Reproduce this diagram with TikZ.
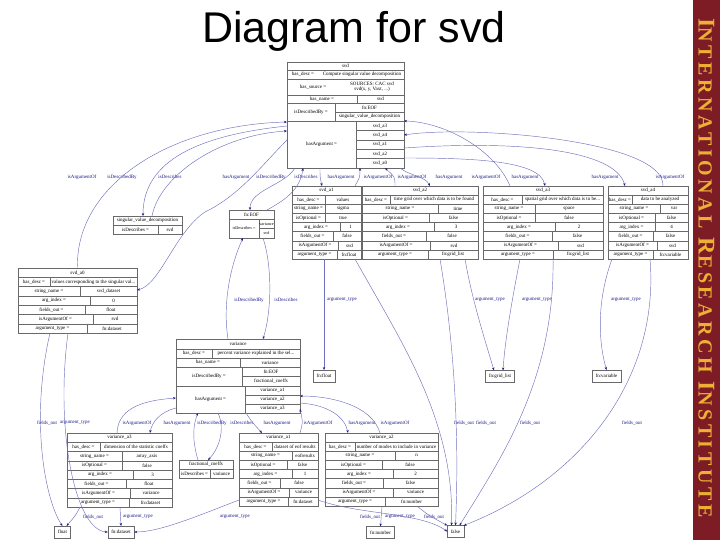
\documentclass[tikz,border=0pt]{standalone}
\usepackage{fontspec}
\setmainfont{Liberation Serif}
\newfontfamily\titlefont{Liberation Sans}
\newfontfamily\irifont[LetterSpace=18]{Liberation Serif}
\usepackage{tikz}
\usetikzlibrary{arrows.meta,fit}

\definecolor{rulec}{RGB}{105,105,105}
\definecolor{edgec}{RGB}{112,112,190}
\definecolor{navyc}{RGB}{25,25,135}
\definecolor{iribg}{RGB}{125,28,36}
\definecolor{irigold}{RGB}{236,176,52}

% record table: name, x0, y0, x1, y1, rows, header, key/value/split list
\newcommand{\argtab}[8]{%
  \node[tab, fit={(#2,#3) (#4,#5)}] (#1) {};
  \pgfmathsetmacro\rh{(#5-#3)/#6}
  \node[cell] (#1-h) at ({(#2+#4)/2},{#3+\rh/2}) {#7};
  \foreach \kk/\vv/\ss [count=\i] in {#8} {
    \pgfmathsetmacro\ya{#3+\i*\rh}
    \pgfmathsetmacro\yb{\ya+\rh}
    \draw[sep] (#2,\ya) -- (#4,\ya);
    \draw[sep] (\ss,\ya) -- (\ss,\yb);
    \node[cell] (#1-k\i) at ({(#2+\ss)/2},{(\ya+\yb)/2}) {\kk};
    \node[cell] (#1-v\i) at ({(\ss+#4)/2},{(\ya+\yb)/2}) {\vv};
  }}
\newcommand{\bigc}[1]{{\fontsize{24}{24}\selectfont #1}}

\begin{document}
\begin{tikzpicture}[
  x=1pt, y=-1pt,
  every node/.style={font=\fontsize{5}{5.5}\selectfont},
  tab/.style  ={draw=rulec, line width=0.4pt, inner sep=0pt, outer sep=0pt},
  cell/.style ={inner sep=0pt},
  sep/.style  ={draw=rulec, line width=0.35pt},
  leaf/.style ={tab, minimum height=12pt, inner xsep=3.5pt},
  lbl/.style  ={text=navyc, inner sep=0pt},
  edge/.style ={draw=edgec, line width=0.45pt, -{Stealth[length=3pt, width=2.4pt, color=navyc]}},
]
  \useasboundingbox (0,0) rectangle (720,540);
  \fill[iribg] (693,0) rectangle (720,540);
  \node[rotate=-90, text=irigold, inner sep=0pt, font=\irifont\bfseries\fontsize{20}{20}\selectfont] (iri) at (706.5,268)
    {\bigc{I}NTERNATIONAL \bigc{R}ESEARCH \bigc{I}NSTITUTE};
  \node[font=\titlefont\fontsize{43}{45}\selectfont] (title) at (354,31) {Diagram for svd};

  \node[tab, fit={(287,62) (404,168)}] (svd) {};
  \node[cell] (svd-h) at (345.5,66) {svd};
  \draw[sep] (287,70) -- (404,70);
  \node[cell] (svd-k1) at (303,74.5) {has\_desc =};
  \node[cell] (svd-v1) at (362,74.5) {Compute singular value decomposition};
  \draw[sep] (287,79) -- (404,79);
  \node[cell] (svd-k2) at (313,87) {has\_source =};
  \node[cell, align=center] (svd-v2) at (372,87) {SOURCES: CAC svd\\svd(x, y, Vaxt, ...)};
  \draw[sep] (287,95) -- (404,95);
  \draw[sep] (357,95) -- (357,103);
  \node[cell] (svd-k3) at (322,99) {has\_name =};
  \node[cell] (svd-v3) at (380.5,99) {svd};
  \draw[sep] (287,103) -- (404,103);
  \draw[sep] (335,103) -- (335,121);
  \draw[sep] (335,112) -- (404,112);
  \node[cell] (svd-k4) at (311,112) {isDescribedBy =};
  \node[cell] (svd-v4) at (369.5,107.5) {fn:EOF};
  \node[cell] (svd-v5) at (369.5,116.5) {singular\_value\_decomposition};
  \draw[sep] (287,121) -- (404,121);
  \draw[sep] (356,121) -- (356,168);
  \node[cell] (svd-k6) at (321.5,144.5) {hasArgument =};
  \foreach \a [count=\i from 0] in {svd\_a3, svd\_a4, svd\_a1, svd\_a2, svd\_a0} {
    \pgfmathsetmacro\ya{121+\i*9.4}
    \draw[sep] (356,\ya) -- (404,\ya);
    \node[cell] (svd-a\i) at (380,{\ya+4.7}) {\a};
  }

  \node[tab, fit={(113,216) (182,234)}] (sv) {};
  \node[cell] (sv-h) at (147.5,220.5) {singular\_value\_decomposition};
  \draw[sep] (113,225) -- (182,225);
  \draw[sep] (158,225) -- (158,234);
  \node[cell] (sv-k) at (135.5,229.5) {isDescribes =};
  \node[cell] (sv-v) at (170,229.5) {svd};

  \node[tab, fit={(229,210) (274,238)}] (eof) {};
  \node[cell] (eof-h) at (251.5,214.5) {fn:EOF};
  \draw[sep] (229,219) -- (274,219);
  \draw[sep] (259,219) -- (259,238);
  \draw[sep] (259,228.5) -- (274,228.5);
  \node[cell, font=\fontsize{4.2}{5}\selectfont] (eof-k) at (244,228.5) {isDescribes =};
  \node[cell, font=\fontsize{4.2}{5}\selectfont] (eof-v1) at (266.5,224) {variance};
  \node[cell, font=\fontsize{4.2}{5}\selectfont] (eof-v2) at (266.5,233.5) {svd};

  \node[tab, fit={(176,339) (300,413)}] (var) {};
  \node[cell] (var-h) at (238,344) {variance};
  \draw[sep] (176,349) -- (300,349);
  \draw[sep] (212,349) -- (212,358);
  \node[cell] (var-k1) at (194,353.5) {has\_desc =};
  \node[cell] (var-v1) at (256,353.5) {percent variance explained in the sel...};
  \draw[sep] (176,358) -- (300,358);
  \draw[sep] (240,358) -- (240,367);
  \node[cell] (var-k2) at (208,362.5) {has\_name =};
  \node[cell] (var-v2) at (270,362.5) {variance};
  \draw[sep] (176,367) -- (300,367);
  \draw[sep] (242,367) -- (242,386);
  \draw[sep] (242,376.5) -- (300,376.5);
  \node[cell] (var-k3) at (209,376.5) {isDescribedBy =};
  \node[cell] (var-v3) at (271,372) {fn:EOF};
  \node[cell] (var-v4) at (271,381) {fractional\_coeffs};
  \draw[sep] (176,386) -- (300,386);
  \draw[sep] (245,386) -- (245,413);
  \node[cell] (var-k5) at (210.5,399.5) {hasArgument =};
  \foreach \a [count=\i from 0] in {variance\_a1, variance\_a2, variance\_a3} {
    \pgfmathsetmacro\ya{386+\i*9}
    \draw[sep] (245,\ya) -- (300,\ya);
    \node[cell] (var-a\i) at (272.5,{\ya+4.5}) {\a};
  }

  \node[tab, fit={(179,460) (233,478)}] (fc) {};
  \node[cell] (fc-h) at (206,464.5) {fractional\_coeffs};
  \draw[sep] (179,469) -- (233,469);
  \draw[sep] (210,469) -- (210,478);
  \node[cell] (fc-k) at (194.5,473.5) {isDescribes =};
  \node[cell] (fc-v) at (221.5,473.5) {variance};

  \argtab{a0}{18}{268}{137}{333}{7}{svd\_a0}{%
    has\_desc =/{values corresponding to the singular val...}/50,
    string\_name =/svd\_dataset/80,
    arg\_index =/0/90,
    fields\_out =/float/85,
    isArgumentOf =/svd/93,
    argument\_type =/fn:dataset/87}
  \argtab{a1}{292}{186}{361}{259}{8}{svd\_a1}{%
    has\_desc =/values/325,
    string\_name =/sigma/325,
    isOptional =/true/325,
    arg\_index =/1/340,
    fields\_out =/false/333,
    isArgumentOf =/svd/338,
    argument\_type =/fn:float/337}
  \argtab{a2}{362}{186}{478}{259}{8}{svd\_a2}{%
    has\_desc =/{time grid over which data is to be found}/390,
    string\_name =/time/438,
    isOptional =/false/429,
    arg\_index =/3/434,
    fields\_out =/false/426,
    isArgumentOf =/svd/430,
    argument\_type =/fn:grid\_list/428}
  \argtab{a3}{483}{186}{603}{259}{8}{svd\_a3}{%
    has\_desc =/{spatial grid over which data is to be...}/522,
    string\_name =/space/535,
    isOptional =/false/535,
    arg\_index =/2/555,
    fields\_out =/false/552,
    isArgumentOf =/svd/558,
    argument\_type =/fn:grid\_list/553}
  \argtab{a4}{608}{186}{688}{259}{8}{svd\_a4}{%
    has\_desc =/{data to be analyzed}/632,
    string\_name =/var/660,
    isOptional =/false/655,
    arg\_index =/4/655,
    fields\_out =/false/653,
    isArgumentOf =/svd/657,
    argument\_type =/fn:variable/653}
  \argtab{va3}{67}{433}{172}{507}{8}{variance\_a3}{%
    has\_desc =/{dimension of the statistic coeffs}/100,
    string\_name =/array\_axis/122,
    isOptional =/false/122,
    arg\_index =/3/133,
    fields\_out =/float/126,
    isArgumentOf =/variance/130,
    argument\_type =/fn:dataset/129}
  \argtab{va1}{239}{433}{318}{506}{8}{variance\_a1}{%
    has\_desc =/{dataset of eof results}/272,
    string\_name =/eofresults/292,
    isOptional =/false/287,
    arg\_index =/1/292,
    fields\_out =/false/280,
    isArgumentOf =/variance/289,
    argument\_type =/fn:dataset/288}
  \argtab{va2}{325}{433}{438}{506}{8}{variance\_a2}{%
    has\_desc =/{number of modes to include in variance}/355,
    string\_name =/n/395,
    isOptional =/false/382,
    arg\_index =/2/393,
    fields\_out =/false/383,
    isArgumentOf =/variance/393,
    argument\_type =/fn:number/385}

  \node[leaf] (fnfloat) at (324,376)     {fn:float};
  \node[leaf] (grid)    at (500,376.5)   {fn:grid\_list};
  \node[leaf] (fnvar)   at (606.5,376)   {fn:variable};
  \node[leaf] (float)   at (62.5,532)    {float};
  \node[leaf] (dataset) at (121,532)     {fn:dataset};
  \node[leaf] (number)  at (380.5,532.5) {fn:number};
  \node[leaf] (false)   at (455.5,531.5) {false};

  \foreach \x/\t [count=\i] in {82/isArgumentOf, 122/isDescribedBy, 170/isDescribes, 236/hasArgument,
      271/isDescribedBy, 306/isDescribes, 341/hasArgument, 378/isArgumentOf, 412/isArgumentOf,
      449/hasArgument, 486/isArgumentOf, 525/hasArgument, 605/hasArgument, 670/isArgumentOf}
    \node[lbl] (ltop\i) at (\x,177) {\t};
  \foreach \x/\t [count=\i] in {249/isDescribedBy, 286/isDescribes, 342/argument\_type,
      490/argument\_type, 537/argument\_type, 626/argument\_type}
    \node[lbl] (lmid\i) at (\x,300) {\t};
  \foreach \x/\t [count=\i] in {47/fields\_out, 75/argument\_type, 137/isArgumentOf, 177/hasArgument,
      212/isDescribedBy, 242/isDescribes, 277/hasArgument, 318/isArgumentOf, 362/hasArgument,
      395/isArgumentOf, 464/fields\_out, 486/fields\_out, 530/fields\_out, 632/fields\_out}
    \node[lbl] (llow\i) at (\x,423) {\t};
  \foreach \x/\t [count=\i] in {93/fields\_out, 138/argument\_type, 235/argument\_type,
      370/fields\_out, 400/argument\_type, 434/fields\_out}
    \node[lbl] (lbot\i) at (\x,517) {\t};

  \draw[edge] (a0.north) .. controls (75,185) and (170,125) .. ([yshift=-60pt]svd.north west);
  \draw[edge] ([yshift=-64pt]svd.north west) .. controls (200,135) and (143,160) .. ([xshift=30pt]sv.north west);
  \draw[edge] ([xshift=39pt]sv.north west) .. controls (160,175) and (220,135) .. ([yshift=-69pt]svd.north west);
  \draw[edge] ([yshift=-78pt]svd.north west) .. controls (262,165) and (240,195) .. (205,212)
    .. controls (175,232) and (160,285) .. ([yshift=-22pt]a0.north east);
  \draw[edge] ([xshift=8pt]svd.south west) .. controls (285,185) and (250,190) .. ([xshift=21pt]eof.north west);
  \draw[edge] ([xshift=38pt]eof.north west) .. controls (285,200) and (300,190) .. ([xshift=16pt]svd.south west);

  \draw[edge] ([xshift=33pt]svd.south west) .. controls (320,177) .. ([xshift=30pt]a1.north west);
  \draw[edge] ([xshift=63pt]a1.north west) .. controls (360,177) .. ([xshift=73pt]svd.south west);
  \draw[edge] ([xshift=33pt]a2.north west) .. controls (395,177) .. ([xshift=98pt]svd.south west);
  \draw[edge] ([xshift=113pt]svd.south west) .. controls (410,176) and (425,176) .. ([xshift=68pt]a2.north west);
  \draw[edge] ([xshift=27pt]a3.north west) .. controls (495,150) and (445,122) .. ([yshift=-59pt]svd.north east);
  \draw[edge] ([yshift=-96pt]svd.north east) .. controls (470,158) and (540,160) .. ([xshift=62pt]a3.north west);
  \draw[edge] ([yshift=-86pt]svd.north east) .. controls (520,140) and (615,150) .. ([xshift=17pt]a4.north west);
  \draw[edge] ([xshift=55pt]a4.north west) .. controls (665,140) and (470,125) .. ([yshift=-73pt]svd.north east);

  \draw[edge] ([xshift=32pt]a1.south west) -- (fnfloat.north);
  \draw[edge] ([xshift=63pt]a1.south west) .. controls (400,340) and (455,420) .. ([xshift=-4pt]false.north);
  \draw[edge] ([xshift=78pt]a2.south west) .. controls (452,330) and (460,420) .. (false.north);
  \draw[edge] ([xshift=103pt]a2.south west) .. controls (472,300) and (485,340) .. ([xshift=-6pt]grid.north);
  \draw[edge] ([xshift=37pt]a3.south west) .. controls (512,300) and (505,340) .. ([xshift=3pt]grid.north);
  \draw[edge] ([xshift=70pt]a3.south west) .. controls (555,380) and (500,460) .. ([xshift=4pt]false.north);
  \draw[edge] ([xshift=4pt]a4.south west) .. controls (597,300) and (598,340) .. (fnvar.north);
  \draw[edge] ([xshift=42pt]a4.south west) .. controls (660,380) and (580,480) .. (false.north east);

  \draw[edge] ([xshift=52pt]var.north west) .. controls (222,300) and (232,262) .. ([xshift=14pt]eof.south west);
  \draw[edge] ([xshift=34pt]eof.south west) .. controls (272,265) and (272,310) .. ([xshift=87pt]var.north west);

  \draw[edge] ([xshift=32pt]a0.south west) .. controls (30,420) and (45,500) .. (float.north);
  \draw[edge] ([xshift=50pt]a0.south west) .. controls (55,430) and (75,530) .. (dataset.west);

  \draw[edge] ([xshift=50pt]va3.north west) .. controls (118,405) and (150,400) .. ([yshift=-59pt]var.north west);
  \draw[edge] ([yshift=-69pt]var.north west) .. controls (160,412) and (152,422) .. ([xshift=83pt]va3.north west);
  \draw[edge] ([xshift=19pt]fc.north west) .. controls (192,440) and (193,425) .. ([xshift=22pt]var.south west);
  \draw[edge] ([xshift=42pt]var.south west) .. controls (226,430) and (218,450) .. ([xshift=29pt]fc.north west);
  \draw[edge] ([xshift=70pt]var.south west) .. controls (252,422) .. ([xshift=23pt]va1.north west);
  \draw[edge] ([xshift=61pt]va1.north west) .. controls (303,422) .. ([yshift=-70pt]var.north east);
  \draw[edge] ([yshift=-64pt]var.north east) .. controls (330,405) and (345,418) .. ([xshift=23pt]va2.north west);
  \draw[edge] ([xshift=55pt]va2.north west) .. controls (372,405) and (330,396) .. ([yshift=-57pt]var.north east);

  \draw[edge] ([xshift=13pt]va3.south west) .. controls (76,515) .. ([xshift=4pt]float.north);
  \draw[edge] ([xshift=53pt]va3.south west) -- (dataset.north);
  \draw[edge] ([yshift=-67pt]va1.north west) .. controls (200,515) and (160,532) .. (dataset.east);
  \draw[edge] ([yshift=-67pt]va1.north east) .. controls (360,515) and (420,512) .. (false.west);
  \draw[edge] ([xshift=57pt]va2.south west) -- (number.north);
  \draw[edge] ([xshift=92pt]va2.south west) .. controls (428,515) .. (false.north west);
\end{tikzpicture}
\end{document}
